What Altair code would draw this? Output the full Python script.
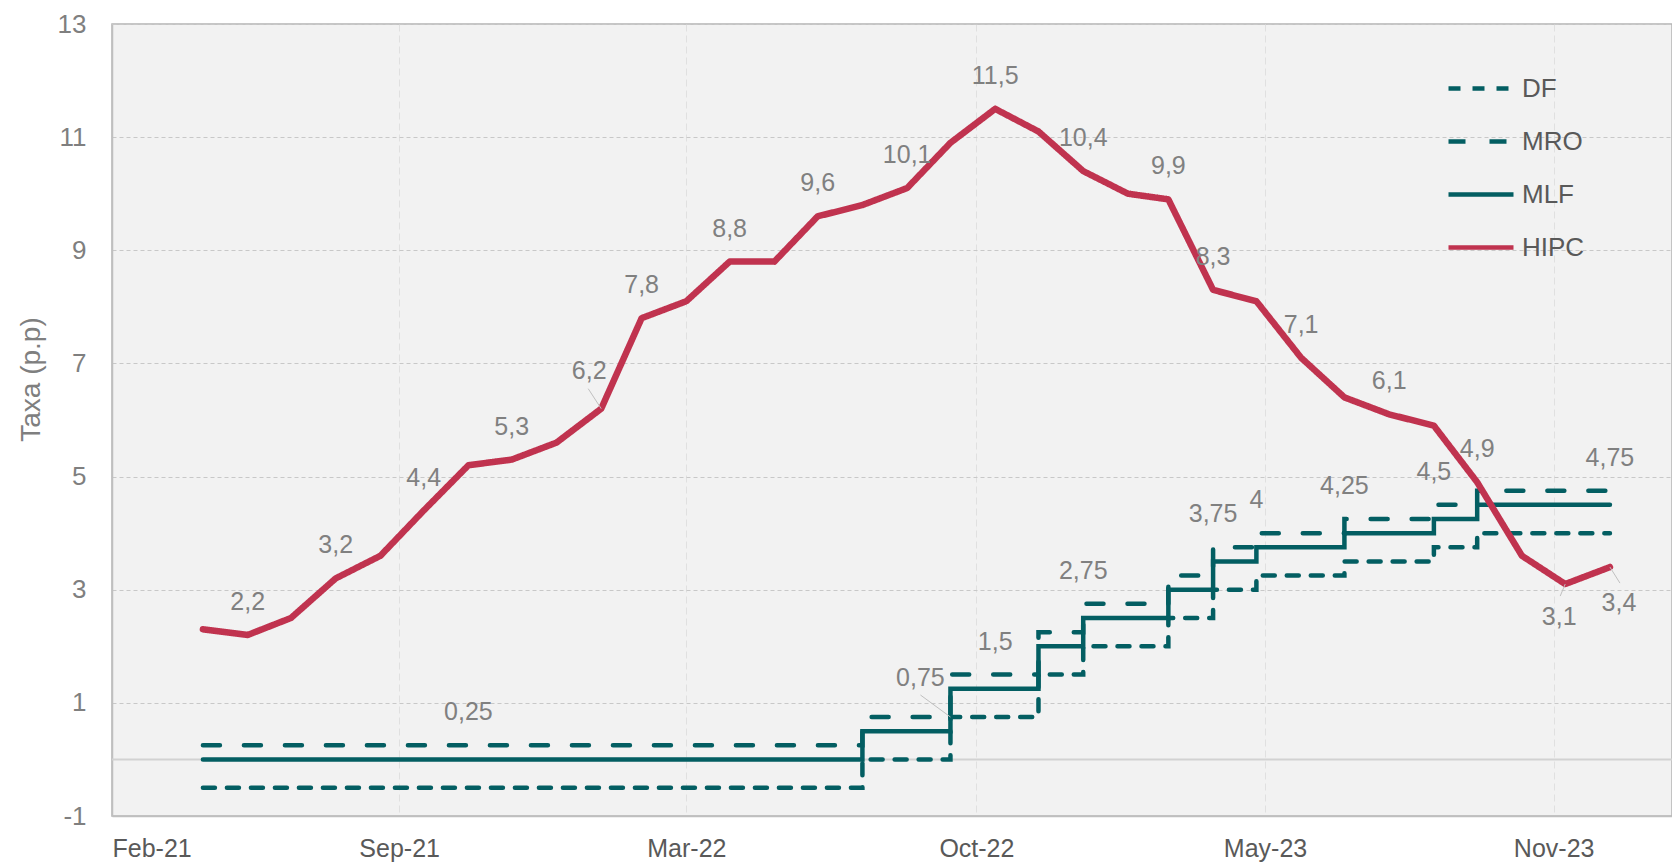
import altair as alt
import pandas as pd

# ---------------- data ----------------
months = [
    "2021-04", "2021-05", "2021-06", "2021-07", "2021-08", "2021-09", "2021-10",
    "2021-11", "2021-12", "2022-01", "2022-02", "2022-03", "2022-04", "2022-05",
    "2022-06", "2022-07", "2022-08", "2022-09", "2022-10", "2022-11", "2022-12",
    "2023-01", "2023-02", "2023-03", "2023-04", "2023-05", "2023-06", "2023-07",
    "2023-08", "2023-09", "2023-10", "2023-11", "2023-12",
]
hipc = [2.3, 2.2, 2.5, 3.2, 3.6, 4.4, 5.2, 5.3, 5.6, 6.2, 7.8, 8.1, 8.8, 8.8,
        9.6, 9.8, 10.1, 10.9, 11.5, 11.1, 10.4, 10.0, 9.9, 8.3, 8.1, 7.1, 6.4,
        6.1, 5.9, 4.9, 3.6, 3.1, 3.4]
df_rate = [-0.5, -0.5, -0.5, -0.5, -0.5, -0.5, -0.5, -0.5, -0.5, -0.5, -0.5,
           -0.5, -0.5, -0.5, -0.5, 0, 0, 0.75, 0.75, 1.5, 2, 2, 2.5, 3, 3.25,
           3.25, 3.5, 3.5, 3.75, 4, 4, 4, 4]
mro_rate = [0.25, 0.25, 0.25, 0.25, 0.25, 0.25, 0.25, 0.25, 0.25, 0.25, 0.25,
            0.25, 0.25, 0.25, 0.25, 0.75, 0.75, 1.5, 1.5, 2.25, 2.75, 2.75,
            3.25, 3.75, 4, 4, 4.25, 4.25, 4.5, 4.75, 4.75, 4.75, 4.75]
mlf_rate = [0, 0, 0, 0, 0, 0, 0, 0, 0, 0, 0, 0, 0, 0, 0, 0.5, 0.5, 1.25, 1.25,
            2, 2.5, 2.5, 3, 3.5, 3.75, 3.75, 4, 4, 4.25, 4.5, 4.5, 4.5, 4.5]

series_names = ["DF", "MRO", "MLF", "HIPC"]
tick_dates = ["2021-02-26", "2021-09-13", "2022-03-31", "2022-10-18",
              "2023-05-06", "2023-11-22"]
x_domain = ["2021-02-26", "2024-02-12"]
y_ticks = [-1, 1, 3, 5, 7, 9, 11, 13]

# which points carry a value label
hipc_labels_above = [1, 3, 5, 7, 10, 12, 14, 16, 18, 20, 22, 23, 25, 27, 29]
mro_labels_above = [6, 18, 20, 23, 24, 26, 28, 32]

# ---------------- tables ----------------
dates = [pd.Period(m, freq="M").end_time.normalize() for m in months]


def fmt(v):
    return f"{v:g}".replace(".", ",")


rates = pd.concat([
    pd.DataFrame({"date": dates, "series": name, "value": vals})
    for name, vals in [("DF", df_rate), ("MRO", mro_rate), ("MLF", mlf_rate)]
])
hipc_df = pd.DataFrame({"date": dates, "series": "HIPC", "value": hipc})


def pick(values, idx):
    return pd.DataFrame({
        "date": [dates[i] for i in idx],
        "value": [values[i] for i in idx],
        "label": [fmt(values[i]) for i in idx],
    })


def dt(s):
    t = pd.Timestamp(s)
    return alt.DateTime(year=t.year, month=t.month, date=t.day)


teal = "#035E62"
red = "#C0334F"
label_grey = "#808080"
FONT = "Liberation Sans"

x_enc = alt.X(
    "date:T",
    scale=alt.Scale(domain=[dt(d) for d in x_domain]),
    axis=alt.Axis(values=[dt(d) for d in tick_dates], format="%b-%y", title=None),
)
y_enc = alt.Y(
    "value:Q",
    scale=alt.Scale(domain=[-1, 13], nice=False, zero=False),
    axis=alt.Axis(
        values=y_ticks,
        title="Taxa (p.p)",
        titleY=355,
        labelExpr="datum.value < 0 ? '-' + abs(datum.value) : '' + datum.value",
    ),
)

legend = alt.Legend(
    title=None, orient="none", legendX=1334, legendY=38,
    symbolType="stroke", symbolSize=4225, symbolStrokeWidth=4.5,
    labelFontSize=26, labelFont=FONT,
    labelColor="#595959", clipHeight=53, rowPadding=0, labelOffset=6, padding=0,
)
color_enc = alt.Color("series:N", scale=alt.Scale(domain=series_names,
                      range=[teal, teal, teal, red]), legend=legend)
dash_enc = alt.StrokeDash("series:N", scale=alt.Scale(
    domain=series_names, range=[[12, 12], [17, 24], [1, 0], [1, 0]]))

zero_line = alt.Chart(pd.DataFrame({"value": [0]})).mark_rule(
    color="#D2D2D2", strokeWidth=2).encode(y="value:Q")

rate_lines = alt.Chart(rates).mark_line(
    interpolate="step-after", strokeCap="round", strokeJoin="miter",
    strokeWidth=4.5).encode(
    x=x_enc, y=y_enc, color=color_enc, strokeDash=dash_enc)

hipc_line = alt.Chart(hipc_df).mark_line(
    strokeCap="round", strokeJoin="round", strokeWidth=6.5).encode(
    x=x_enc, y=y_enc, color=color_enc, strokeDash=dash_enc)


def labels(df, dx=0, dy=-33):
    return alt.Chart(df).mark_text(
        dx=dx, dy=dy, fontSize=25, font=FONT, color=label_grey,
        align="center", baseline="middle").encode(
        x="date:T", y="value:Q", text="label:N")


def leader(df, ox, oy):
    return alt.Chart(df).mark_rule(
        color="#C0C0C0", strokeWidth=1, x2Offset=ox, y2Offset=oy).encode(
        x="date:T", y="value:Q", x2="date:T", y2="value:Q")


lab_62 = pick(hipc, [9])
lab_31 = pick(hipc, [31])
lab_34 = pick(hipc, [32])
lab_075 = pick(df_rate, [17])

layers = [
    zero_line,
    rate_lines,
    hipc_line,
    leader(lab_62, -13, -20),
    leader(lab_075, -30, -22),
    leader(lab_31, -5, 12),
    leader(lab_34, 10, 16),
    labels(pick(hipc, hipc_labels_above)),
    labels(pick(mro_rate, mro_labels_above)),
    labels(lab_62, dx=-12, dy=-38),
    labels(lab_075, dx=-30, dy=-39),
    labels(lab_31, dx=-6, dy=33),
    labels(lab_34, dx=9, dy=36),
]

chart = alt.layer(*layers).properties(
    width=1560, height=792,
    autosize=alt.AutoSizeParams(type="none"),
    padding={"left": 104, "top": 16, "right": 0, "bottom": 50},
).configure_view(
    fill="#F2F2F2", stroke="#B4B4B4", strokeWidth=1.5,
).configure_axis(
    labelFont=FONT, titleFont=FONT, domainColor="#BFBFBF", domainWidth=1.5,
    ticks=False, tickSize=0, gridWidth=1,
).configure_axisX(
    gridColor="#E0E0E0", gridDash=[7, 4], labelFontSize=25,
    labelColor="#595959", labelPadding=20,
).configure_axisY(
    gridColor="#C8C8C8", gridDash=[4, 3], labelFontSize=26,
    labelColor="#7F7F7F", labelPadding=26, titleFontSize=28,
    titleColor="#7F7F7F", titleFontWeight="normal", titlePadding=12,
)

chart.save("out.html", embed_options={"renderer": "svg", "actions": False})
